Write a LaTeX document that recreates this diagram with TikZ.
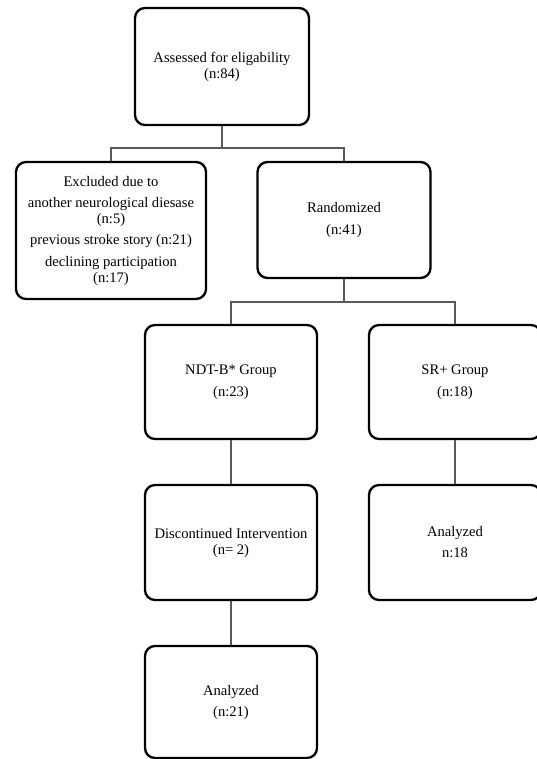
\documentclass[tikz,border=0pt]{standalone}
\usepackage{fontspec}
\setmainfont{Liberation Serif}
\begin{document}
\begin{tikzpicture}[x=1pt,y=-1pt,
  box/.style={draw=black,line width=2.3pt,rounded corners=10pt,align=center,inner sep=0pt,
    font=\fontsize{14.6}{16}\selectfont},
  link/.style={draw=black!65,line width=1.3pt}]
\useasboundingbox[fill=white] (0,0) rectangle (537,759);
\node[box,minimum width=174pt,minimum height=117pt] (top) at (222,66.5) {Assessed for eligability\\(n:84)};
\node[box,minimum width=190pt,minimum height=137pt] (excl) at (111,230.5) {Excluded due to\\[5pt]another neurological diesase\\(n:5)\\[5pt]previous stroke story (n:21)\\[6pt]declining participation\\(n:17)};
\node[box,minimum width=173pt,minimum height=116pt] (rand) at (344,220) {Randomized\\[6pt](n:41)};
\node[box,minimum width=172pt,minimum height=114pt] (ndt) at (231,382) {NDT-B* Group\\[6pt](n:23)};
\node[box,minimum width=172pt,minimum height=114pt] (sr) at (455,382) {SR+ Group\\[6pt](n:18)};
\node[box,minimum width=172pt,minimum height=115pt] (disc) at (231,542.5) {Discontinued Intervention\\(n= 2)};
\node[box,minimum width=172pt,minimum height=115pt] (anr) at (455,542.5) {Analyzed\\[5pt]n:18};
\node[box,minimum width=172pt,minimum height=112pt] (anl) at (231,702) {Analyzed\\[5pt](n:21)};
\coordinate (j1) at (top.south |- 0,148);
\coordinate (j2) at (rand.south |- 0,302);
\draw[link] (top.south) -- (j1) -| (excl.north);
\draw[link] (j1) -| (rand.north);
\draw[link] (rand.south) -- (j2) -| (ndt.north);
\draw[link] (j2) -| (sr.north);
\draw[link] (ndt.south) -- (disc.north);
\draw[link] (sr.south) -- (anr.north);
\draw[link] (disc.south) -- (anl.north);
\end{tikzpicture}
\end{document}
